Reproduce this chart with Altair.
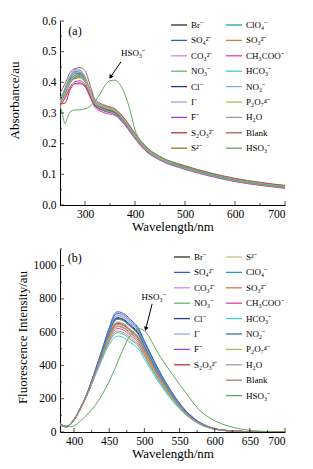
import altair as alt
import pandas as pd

FONT = "Liberation Serif"

LABELS = {
    "Br": "Br⁻", "SO4": "SO₄²⁻", "CO3": "CO₃²⁻", "NO3": "NO₃⁻", "Cl": "Cl⁻",
    "I": "I⁻", "F": "F⁻", "S2O3": "S₂O₃²⁻", "S": "S²⁻", "ClO4": "ClO₄⁻",
    "SO3": "SO₃²⁻", "CH3COO": "CH₃COO⁻", "HCO3": "HCO₃⁻", "NO2": "NO₂⁻",
    "P2O7": "P₂O₇⁴⁻", "H2O": "H₂O", "Blank": "Blank", "HSO3": "HSO₃⁻",
}

# ---------------- panel (a): absorbance ----------------
WA = [250, 260, 270, 280, 290, 300, 310, 320, 340, 360, 380, 400, 420, 450, 500, 550, 600, 650, 700]
a_Br     = [0.335, 0.365, 0.400, 0.418, 0.420, 0.405, 0.365, 0.330, 0.312, 0.300, 0.268, 0.222, 0.182, 0.150, 0.120, 0.098, 0.080, 0.068, 0.058]
a_SO4    = [0.340, 0.375, 0.415, 0.435, 0.432, 0.412, 0.370, 0.335, 0.318, 0.306, 0.273, 0.228, 0.188, 0.154, 0.124, 0.101, 0.083, 0.070, 0.060]
a_CO3    = [0.345, 0.370, 0.408, 0.428, 0.430, 0.410, 0.372, 0.338, 0.322, 0.310, 0.276, 0.230, 0.190, 0.156, 0.126, 0.103, 0.085, 0.072, 0.062]
a_NO3    = [0.330, 0.360, 0.398, 0.415, 0.418, 0.402, 0.363, 0.328, 0.310, 0.298, 0.265, 0.220, 0.181, 0.148, 0.119, 0.097, 0.079, 0.067, 0.057]
a_Cl     = [0.338, 0.368, 0.405, 0.422, 0.425, 0.408, 0.368, 0.332, 0.314, 0.303, 0.270, 0.224, 0.185, 0.151, 0.122, 0.099, 0.081, 0.069, 0.059]
a_I      = [0.342, 0.378, 0.418, 0.440, 0.438, 0.415, 0.372, 0.336, 0.318, 0.306, 0.272, 0.226, 0.186, 0.153, 0.123, 0.100, 0.082, 0.070, 0.060]
a_F      = [0.325, 0.350, 0.385, 0.402, 0.405, 0.392, 0.355, 0.322, 0.305, 0.295, 0.262, 0.218, 0.180, 0.147, 0.118, 0.096, 0.078, 0.066, 0.056]
a_S2O3   = [0.330, 0.332, 0.375, 0.396, 0.398, 0.388, 0.355, 0.325, 0.308, 0.298, 0.266, 0.221, 0.183, 0.150, 0.121, 0.098, 0.080, 0.068, 0.058]
a_S      = [0.335, 0.362, 0.398, 0.412, 0.415, 0.402, 0.366, 0.334, 0.316, 0.305, 0.272, 0.227, 0.187, 0.153, 0.123, 0.100, 0.082, 0.069, 0.059]
a_ClO4   = [0.340, 0.372, 0.410, 0.428, 0.428, 0.410, 0.370, 0.334, 0.316, 0.305, 0.272, 0.226, 0.186, 0.152, 0.123, 0.100, 0.082, 0.070, 0.060]
a_SO3    = [0.332, 0.362, 0.400, 0.415, 0.418, 0.404, 0.366, 0.332, 0.315, 0.304, 0.270, 0.225, 0.185, 0.151, 0.121, 0.099, 0.081, 0.068, 0.058]
a_CH3COO = [0.322, 0.348, 0.380, 0.395, 0.395, 0.385, 0.352, 0.318, 0.300, 0.292, 0.260, 0.216, 0.178, 0.146, 0.116, 0.094, 0.076, 0.064, 0.054]
a_HCO3   = [0.336, 0.366, 0.402, 0.420, 0.422, 0.406, 0.366, 0.330, 0.309, 0.297, 0.266, 0.221, 0.182, 0.149, 0.119, 0.097, 0.079, 0.067, 0.057]
a_NO2    = [0.345, 0.380, 0.420, 0.442, 0.440, 0.418, 0.375, 0.338, 0.320, 0.308, 0.275, 0.229, 0.189, 0.155, 0.125, 0.102, 0.084, 0.071, 0.061]
a_P2O7   = [0.338, 0.366, 0.404, 0.420, 0.422, 0.406, 0.368, 0.334, 0.318, 0.307, 0.274, 0.228, 0.188, 0.154, 0.124, 0.101, 0.083, 0.070, 0.060]
a_H2O    = [0.348, 0.380, 0.418, 0.432, 0.434, 0.418, 0.378, 0.340, 0.322, 0.311, 0.278, 0.232, 0.191, 0.157, 0.127, 0.104, 0.086, 0.073, 0.063]
a_Blank  = [0.365, 0.395, 0.432, 0.445, 0.448, 0.438, 0.392, 0.345, 0.325, 0.314, 0.280, 0.234, 0.193, 0.158, 0.128, 0.105, 0.087, 0.074, 0.064]
WA_HSO3 = [250, 255, 260, 265, 270, 280, 290, 300, 310, 320, 330, 340, 350, 360, 370, 380, 390, 400, 420, 450, 500, 550, 600, 650, 700]
a_HSO3  = [0.325, 0.295, 0.265, 0.285, 0.303, 0.310, 0.310, 0.314, 0.322, 0.338, 0.362, 0.390, 0.405, 0.407, 0.393, 0.360, 0.310, 0.245, 0.195, 0.158, 0.124, 0.100, 0.081, 0.068, 0.058]

# ---------------- panel (b): fluorescence ----------------
WB = [380, 390, 400, 410, 420, 430, 440, 450, 460, 470, 480, 490, 500, 520, 540, 560, 580, 600, 620, 650, 700]
b_Br     = [45, 33, 75, 150, 246, 362, 483, 603, 685, 678, 643, 603, 522, 359, 223, 117, 52, 20, 8, 2, 0]
b_SO4    = [47, 34, 78, 152, 250, 370, 498, 627, 720, 713, 677, 634, 548, 377, 234, 123, 55, 21, 8, 2, 0]
b_CO3    = [50, 35, 77, 151, 248, 365, 490, 613, 700, 693, 657, 616, 533, 366, 228, 120, 53, 20, 8, 2, 0]
b_NO3    = [44, 32, 74, 146, 236, 342, 445, 541, 595, 588, 556, 524, 454, 312, 194, 102, 45, 17, 7, 2, 0]
b_Cl     = [46, 33, 76, 150, 246, 361, 481, 599, 680, 673, 638, 599, 518, 356, 221, 117, 52, 19, 8, 2, 0]
b_I      = [48, 34, 78, 151, 247, 364, 488, 609, 695, 688, 652, 612, 529, 364, 226, 119, 53, 20, 8, 2, 0]
b_F      = [43, 31, 73, 148, 241, 351, 462, 568, 635, 628, 595, 559, 484, 333, 207, 109, 48, 18, 7, 2, 0]
b_S2O3   = [45, 33, 76, 149, 242, 354, 468, 579, 650, 643, 609, 572, 495, 340, 211, 111, 49, 19, 7, 2, 0]
b_S      = [46, 34, 77, 149, 243, 357, 473, 585, 660, 653, 619, 581, 503, 346, 215, 113, 50, 19, 7, 2, 0]
b_ClO4   = [47, 33, 76, 150, 245, 360, 479, 596, 675, 668, 633, 594, 514, 353, 220, 116, 51, 19, 7, 2, 0]
b_SO3    = [44, 32, 75, 149, 242, 353, 466, 575, 645, 638, 605, 568, 492, 338, 210, 111, 49, 18, 7, 2, 0]
b_CH3COO = [43, 31, 73, 148, 239, 348, 456, 558, 620, 613, 580, 546, 472, 325, 202, 106, 47, 18, 7, 2, 0]
b_HCO3   = [42, 30, 71, 146, 234, 338, 437, 527, 575, 568, 537, 507, 438, 301, 187, 99, 44, 16, 6, 2, 0]
b_NO2    = [47, 34, 77, 152, 249, 368, 494, 620, 710, 703, 667, 625, 540, 372, 231, 122, 54, 20, 8, 2, 0]
b_P2O7   = [45, 33, 75, 148, 240, 350, 460, 565, 630, 623, 590, 555, 480, 330, 205, 108, 48, 18, 7, 2, 0]
b_H2O    = [44, 32, 74, 147, 237, 345, 449, 548, 605, 598, 566, 533, 461, 317, 197, 104, 46, 17, 7, 2, 0]
b_Blank  = [46, 33, 76, 149, 243, 355, 471, 582, 655, 648, 614, 577, 499, 343, 213, 112, 50, 19, 7, 2, 0]
b_HSO3   = [48, 32, 36, 70, 110, 160, 225, 305, 400, 500, 580, 620, 608, 470, 345, 230, 125, 68, 35, 10, 0]

# legend columns
A_COL1 = ["Br", "SO4", "CO3", "NO3", "Cl", "I", "F", "S2O3", "S"]
A_COL2 = ["ClO4", "SO3", "CH3COO", "HCO3", "NO2", "P2O7", "H2O", "Blank", "HSO3"]
B_COL1 = ["Br", "SO4", "CO3", "NO3", "Cl", "I", "F", "S2O3"]
B_COL2 = ["S", "ClO4", "SO3", "CH3COO", "HCO3", "NO2", "P2O7", "H2O", "Blank", "HSO3"]

COLORS_A = {
    "Br": "#2e2e2e", "SO4": "#2b5fbf", "CO3": "#c98ee6", "NO3": "#6db36d", "Cl": "#2c3a8e",
    "I": "#93a9e8", "F": "#a23fca", "S2O3": "#b83232", "S": "#8c7a2c", "ClO4": "#1f9f9f",
    "SO3": "#c4824a", "CH3COO": "#e0419c", "HCO3": "#45c9d3", "NO2": "#8ea8dc",
    "P2O7": "#a9c252", "H2O": "#9d9d9d", "Blank": "#a85a5a", "HSO3": "#5fa85f",
}
COLORS_B = dict(COLORS_A, S="#c9c189", NO2="#3d6ec8", Blank="#b87474")

# axis ticks (drawn inside)
A_XMAJ = [300, 400, 500, 600, 700]
A_XMIN = [350, 450, 550, 650]
A_YMAJ = [0.0, 0.1, 0.2, 0.3, 0.4, 0.5, 0.6]
A_YMIN = [0.05, 0.15, 0.25, 0.35, 0.45, 0.55]
B_XMAJ = [400, 450, 500, 550, 600, 650, 700]
B_XMIN = [425, 475, 525, 575, 625, 675]
B_YMAJ = [0, 200, 400, 600, 800, 1000]
B_YMIN = [100, 300, 500, 700, 900, 1100]

# annotations (data coordinates)
A_TAG = [280, 0.567]
A_NOTE = [396, 0.496]
A_ARROW = [372, 0.467, 351, 0.417]
B_TAG = [401, 1046]
B_NOTE = [513, 810]
B_ARROW = [511, 770, 502, 620]

W, HA, HB = 225, 184, 183


def long_df(prefix, grid, names, special_grid=None):
    rows = []
    g = globals()
    for n in names:
        xs = special_grid if (n == "HSO3" and special_grid is not None) else grid
        for w, v in zip(xs, g[prefix + n]):
            rows.append({"w": w, "v": v, "s": LABELS[n]})
    return pd.DataFrame(rows)


def panel(prefix, grid, special_grid, col1, col2, colors, xdom, ydom, H,
          xtitle, ytitle, yfmt, xmaj, xmin, ymaj, ymin, tag, tagtext, note, arrow, angle,
          leg1, leg2, ytitle_x, ytitle_y, interp):
    xaxis = alt.Axis(title=xtitle, values=xmaj, grid=False, ticks=False, tickSize=0,
                     labelPadding=3, titlePadding=1)
    yaxis = alt.Axis(title=ytitle, values=ymaj, grid=False, ticks=False, tickSize=0,
                     format=yfmt, labelPadding=4, titleX=ytitle_x, titleY=ytitle_y)
    X = lambda f="w": alt.X(f + ":Q", scale=alt.Scale(domain=xdom, nice=False, zero=False), axis=xaxis)
    Y = lambda f="v": alt.Y(f + ":Q", scale=alt.Scale(domain=ydom, nice=False, zero=False), axis=yaxis)

    layers = []
    for names, (lx, ly) in ((col1, leg1), (col2, leg2)):
        df = long_df(prefix, grid, names, special_grid)
        labs = [LABELS[n] for n in names]
        layers.append(
            alt.Chart(df).mark_line(strokeWidth=1, interpolate=interp, clip=True).encode(
                x=X(), y=Y(),
                color=alt.Color("s:N", sort=labs,
                                scale=alt.Scale(domain=labs, range=[colors[n] for n in names]),
                                legend=alt.Legend(orient="none", legendX=lx, legendY=ly, title=None,
                                                  symbolType="stroke", symbolSize=256,
                                                  symbolStrokeWidth=1.3, labelFont=FONT,
                                                  labelFontSize=9, labelColor="black",
                                                  rowPadding=1.4, labelOffset=3, padding=0,
                                                  labelLimit=80)),
            )
        )
    # inside ticks
    for vals, sz in [(xmaj, 4), (xmin, 2)]:
        layers.append(alt.Chart(pd.DataFrame({"w": vals})).mark_tick(
            orient="vertical", size=sz, thickness=1, color="black").encode(
            x=X(), y=alt.value(H - sz / 2)))
    for vals, sz in [(ymaj, 4), (ymin, 2)]:
        layers.append(alt.Chart(pd.DataFrame({"v": vals})).mark_tick(
            orient="horizontal", size=sz, thickness=1, color="black").encode(
            y=Y(), x=alt.value(sz / 2)))
    # annotations
    ann = pd.DataFrame({"w": [tag[0]], "v": [tag[1]], "t": [tagtext]})
    layers.append(alt.Chart(ann).mark_text(font=FONT, fontSize=12, color="black").encode(
        x=X(), y=Y(), text="t:N"))
    note_df = pd.DataFrame({"w": [note[0]], "v": [note[1]], "t": [LABELS["HSO3"]]})
    layers.append(alt.Chart(note_df).mark_text(font=FONT, fontSize=9, color="black").encode(
        x=X(), y=Y(), text="t:N"))
    arr = pd.DataFrame({"w": [arrow[0]], "v": [arrow[1]], "w2": [arrow[2]], "v2": [arrow[3]]})
    layers.append(alt.Chart(arr).mark_rule(color="black", strokeWidth=1).encode(
        x=X(), y=Y(), x2="w2:Q", y2="v2:Q"))
    head = pd.DataFrame({"w": [arrow[2]], "v": [arrow[3]]})
    layers.append(alt.Chart(head).mark_point(shape="triangle-up", filled=True, size=22,
                                             color="black", opacity=1, angle=angle).encode(
        x=X(), y=Y()))
    return alt.layer(*layers).resolve_scale(color="independent").properties(width=W, height=H)


pa = panel("a_", WA, WA_HSO3, A_COL1, A_COL2, COLORS_A, [250, 700], [0, 0.6], HA,
           "Wavelength/nm", "Absorbance/au", ".1f", A_XMAJ, A_XMIN, A_YMAJ, A_YMIN,
           A_TAG, "(a)", A_NOTE, A_ARROW, 215, (110, -5), (165, -5), -39, 79, "monotone")
pb = panel("b_", WB, None, B_COL1, B_COL2, COLORS_B, [380, 700], [0, 1100], HB,
           "Wavelength/nm", "Fluorescence Intensity/au", "d", B_XMAJ, B_XMIN, B_YMAJ, B_YMIN,
           B_TAG, "(b)", B_NOTE, B_ARROW, 195, (113, -1), (165, -1), -31, 88, "catmull-rom")

chart = alt.vconcat(pa, pb, spacing=14).properties(
    padding={"left": 0, "top": 7, "right": 0, "bottom": 0}, background="white"
).configure_view(stroke=None).configure_axis(
    domainColor="black", domainWidth=1, labelFont=FONT, labelFontSize=11.5, labelColor="black",
    titleFont=FONT, titleFontSize=13, titleFontWeight="normal", titleColor="black",
)

chart.save("out.html", embed_options={"renderer": "svg", "actions": False})
